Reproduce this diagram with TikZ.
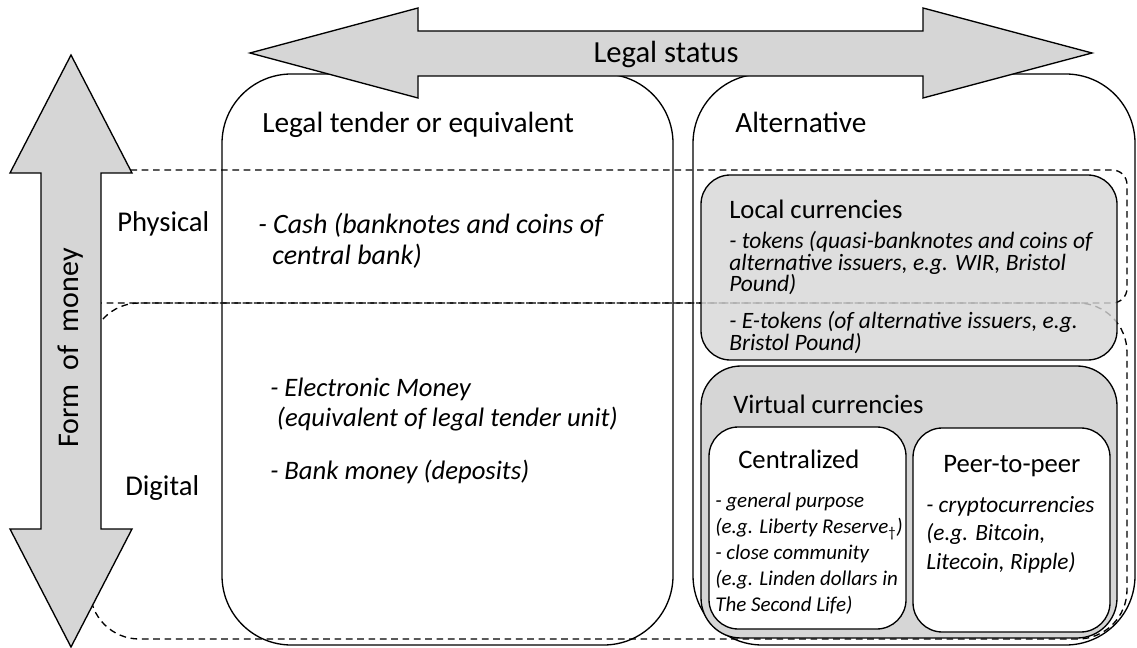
\documentclass[tikz,border=0pt]{standalone}
\usepackage{fontspec}
\setmainfont{Carlito}
\definecolor{boxgray}{RGB}{214,214,214}
\begin{document}
\begin{tikzpicture}[x=0.75pt,y=0.75pt,yscale=-1,xscale=1,
  solidbox/.style={line width=1pt},
  dashbox/.style={line width=1pt,dash pattern=on 5pt off 3.5pt},
  bigarrow/.style={line width=1pt,fill=boxgray},
  headlbl/.style={font=\fontsize{22}{26}\selectfont,inner sep=0pt},
  sublbl/.style={font=\fontsize{20}{24}\selectfont,inner sep=0pt},
  itemtxt/.style={inner sep=0pt,align=left}]
\useasboundingbox (0,0) rectangle (1137,648);

%Shape: Rounded Rect (physical, dashed)
\draw [dashbox,rounded corners=11pt] (60,170) rectangle (1127,303) ;
%Shape: Rounded Rect (digital, dashed)
\draw [dashbox,rounded corners=37pt] (90,303) rectangle (1127,639) ;

%Shape: Rounded Rect (legal tender)
\draw [solidbox,rounded corners=52pt] (222,74) rectangle (673,645) ;
%Shape: Rounded Rect (alternative)
\draw [solidbox,rounded corners=52pt] (693,74) rectangle (1135,645) ;

%Shape: Rounded Rect (local currencies)
\draw [solidbox,rounded corners=22pt,fill=boxgray,fill opacity=0.8] (701,175) rectangle (1117,360) ;
%Shape: Rounded Rect (virtual currencies)
\draw [solidbox,rounded corners=30pt,fill=boxgray] (701,366) rectangle (1117,638) ;
%Shape: Rounded Rect (centralized)
\draw [solidbox,rounded corners=22pt,fill=white] (709,427) rectangle (906,629) ;
%Shape: Rounded Rect (peer-to-peer)
\draw [solidbox,rounded corners=22pt,fill=white] (913,428) rectangle (1110,632) ;

%Shape: Left-Right Arrow
\draw [bigarrow] (250,53) -- (418,8) -- (418,31) -- (923,31) -- (923,8) -- (1092,53) -- (923,98) -- (923,76) -- (418,76) -- (418,98) -- cycle ;
%Shape: Up-Down Arrow
\draw [bigarrow] (71,55) -- (132,173) -- (101,173) -- (101,529) -- (132,529) -- (71,647) -- (10,529) -- (41,529) -- (41,173) -- (10,173) -- cycle ;

% Text Node
\draw (666,63) node (legalstatus) [anchor=base] [headlbl,font=\fontsize{23}{26}\selectfont] {Legal status};
% Text Node
\draw (71,348) node (formmoney) [rotate=90] [headlbl,font=\fontsize{22.5}{26}\selectfont] {Form~ of~ money};
% Text Node
\draw (117,232) node (physical) [anchor=base west] [headlbl,font=\fontsize{21.5}{26}\selectfont] {Physical};
% Text Node
\draw (125,495) node (digital) [anchor=base west] [headlbl,font=\fontsize{21.5}{26}\selectfont] {Digital};
% Text Node
\draw (262,133) node (legaltender) [anchor=base west] [headlbl] {Legal tender or equivalent};
% Text Node
\draw (735,133) node (alternative) [anchor=base west] [headlbl] {Alternative};

% Text Node
\draw (258,213) node (cash) [anchor=north west] [itemtxt,font=\fontsize{21}{23}\selectfont\itshape] {- Cash (banknotes and coins of\\\hspace*{0.5em}central bank)};
% Text Node
\draw (270,378) node (emoney) [anchor=north west] [itemtxt,font=\fontsize{20}{22.5}\selectfont\itshape] {- Electronic Money\\\hspace*{0.25em}(equivalent of legal tender unit)};
% Text Node
\draw (270,479) node (bankmoney) [anchor=base west] [itemtxt,font=\fontsize{20}{22.5}\selectfont\itshape] {- Bank money (deposits)};

% Text Node
\draw (729,219) node (localhead) [anchor=base west] [sublbl] {Local currencies};
% Text Node
\draw (729,231) node (tokens) [anchor=north west] [itemtxt,font=\fontsize{17.6}{16.3}\selectfont\itshape] {- tokens (quasi-banknotes and coins of\\alternative issuers, e.g. WIR, Bristol\\Pound)};
% Text Node
\draw (729,311) node (etokens) [anchor=north west] [itemtxt,font=\fontsize{17.6}{16.3}\selectfont\itshape] {- E-tokens (of alternative issuers, e.g.\\Bristol Pound)};

% Text Node
\draw (733,413) node (virtualhead) [anchor=base west] [sublbl] {Virtual currencies};
% Text Node
\draw (738,468) node (centralhead) [anchor=base west] [sublbl] {Centralized};
% Text Node
\draw (715,493) node (centralitems) [anchor=north west] [itemtxt,font=\fontsize{15.75}{19.5}\selectfont\itshape] {- general purpose\\(e.g. Liberty Reserve\textsubscript{\upshape †})\\- close community\\(e.g. Linden dollars in\\The Second Life)};
% Text Node
\draw (943,472) node (p2phead) [anchor=base west] [sublbl] {Peer-to-peer};
% Text Node
\draw (926,496) node (p2pitems) [anchor=north west] [itemtxt,font=\fontsize{17.5}{21.4}\selectfont\itshape] {- cryptocurrencies\\(e.g. Bitcoin,\\Litecoin, Ripple)};

\end{tikzpicture}
\end{document}
